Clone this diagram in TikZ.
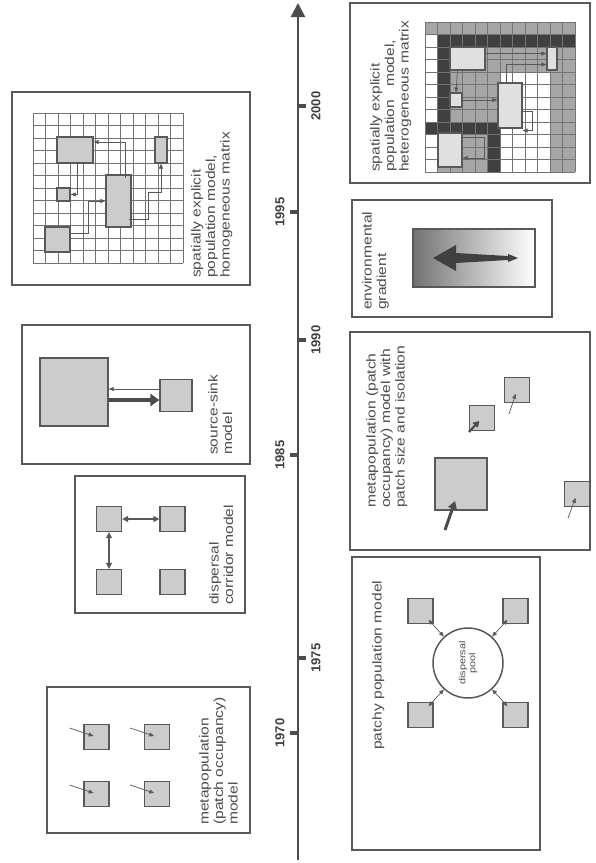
\documentclass[tikz,border=0pt]{standalone}
\usepackage{fontspec}
\setmainfont{Liberation Sans}
\newfontfamily\lblfont[FakeStretch=1.2]{Liberation Sans}
\usetikzlibrary{arrows.meta,calc}

\begin{document}
\begin{tikzpicture}[x=1pt,y=-1pt]
\tikzset{
  boxline/.style={draw=black!65, line width=1.6pt},
  patch/.style={draw=black!65, fill=black!20, line width=1.3pt, minimum size=25pt, inner sep=0pt},
  lightpatch/.style={draw=black!65, fill=black!12, line width=1.1pt, inner sep=0pt},
  lbl/.style={rotate=90, anchor=north west, inner sep=0pt, align=left, text=black!70,
    font=\lblfont\fontsize{13}{14.5}\selectfont},
  yr/.style={rotate=90, inner sep=0pt, text=black!75, font=\bfseries\fontsize{13}{13}\selectfont},
  flow/.style={draw=black!65, line width=0.7pt, -{Triangle[length=5pt,width=4pt]}},
  link/.style={draw=black!65, line width=1.4pt, {Triangle[length=6pt,width=6pt]}-{Triangle[length=6pt,width=6pt]}},
}
\useasboundingbox (0,0) rectangle (595,863);

% time axis
\coordinate (tstart) at (298,860);
\coordinate (tend) at (298,3);
\draw[black!70, line width=2.2pt, -{Triangle[length=14pt,width=14pt]}] (tstart) -- (tend);
\foreach \yy/\yrlab/\side in {733/1970/-1, 658/1975/1, 455/1985/-1, 340/1990/1, 212/1995/-1, 106/2000/1}{
  \fill[black!70] (298,\yy-1.8) rectangle (298+8*\side,\yy+1.8);
  \node[yr] (yr\yrlab) at (298+18*\side,\yy) {\yrlab};
}

% metapopulation (patch occupancy)
\draw[boxline] (47,687) rectangle (250,833);
\foreach \n/\px/\py in {1/96.5/737, 2/157/737, 3/96.5/794, 4/157/794}{
  \node[patch] (mp\n) at (\px,\py) {};
  \path (mp\n) ++(-27,-9) coordinate (mpin\n);
  \draw[flow, shorten >=3pt] (mpin\n) -- (mp\n.center);
}
\node[lbl] (mptxt) at (199,825) {metapopulation\\(patch occupancy)\\model};

% dispersal corridor
\draw[boxline] (75,476) rectangle (245,613);
\node[patch] (dc1) at (109,519) {};
\node[patch] (dc2) at (172.5,519) {};
\node[patch] (dc3) at (109,582) {};
\node[patch] (dc4) at (172.5,582) {};
\draw[link] (dc1) -- (dc2);
\draw[link] (dc1) -- (dc3);
\node[lbl] (dctxt) at (209,605) {dispersal\\corridor model};

% source-sink
\draw[boxline] (22,325) rectangle (250,464);
\node[patch, minimum size=68pt] (src) at (74,392) {};
\node[patch, minimum size=32pt] (snk) at (176,395.5) {};
\draw[flow] ($(snk.west)+(0,-6.5)$) -- ($(src.east)+(0,-3)$);
\draw[draw=black!70, line width=4pt, -{Triangle[length=9pt,width=12pt]}] ($(src.east)+(0,8)$) -- ($(snk.west)+(0,4.5)$);
\node[lbl] (sstxt) at (208,455) {source-sink\\model};

% spatially explicit, homogeneous
\draw[boxline] (12,92) rectangle (250,285);
\foreach \i in {0,...,12}{
  \draw[black!55, line width=0.5pt] (33+12.5*\i,113) -- (33+12.5*\i,263);
  \draw[black!55, line width=0.5pt] (33,113+12.5*\i) -- (183,113+12.5*\i);
}
\node[patch, minimum width=36pt, minimum height=26pt] (h1) at (75,150) {};
\node[patch, minimum width=13pt, minimum height=13pt] (h2) at (63.5,194.5) {};
\node[patch, minimum width=25pt, minimum height=25pt] (h3) at (57.5,239.5) {};
\node[patch, minimum width=25pt, minimum height=52pt] (h4) at (118.5,201) {};
\node[patch, minimum width=12pt, minimum height=26pt] (h5) at (161,150) {};
\draw[flow] ($(h3.east)+(0,-6)$) -- ++(18,0) |- (h4.west);
\draw[flow] ($(h1.south)+(2,0)$) |- (h2.east);
\draw[flow] ($(h4.north)+(7,4)$) |- ($(h1.east)+(0,-8)$);
\draw[flow] ($(h4.south east)+(-3,-8)$) -- ++(20,0) -- ++(0,-27) -| (h5.south);
\node[lbl] (hotxt) at (191,278) {spatially explicit\\population model,\\homogeneous matrix};

% patchy population
\draw[boxline] (352,557) rectangle (540,850);
\node[circle, draw=black!65, line width=1.5pt, minimum size=70pt, inner sep=0pt,
  rotate=90, align=center, text=black!70, font=\lblfont\fontsize{9}{10}\selectfont] (pool) at (468,663) {dispersal\\pool};
\node[patch] (pp1) at (420.5,611) {};
\node[patch] (pp2) at (515.5,611) {};
\node[patch] (pp3) at (420.5,715) {};
\node[patch] (pp4) at (515.5,715) {};
\foreach \n in {1,...,4}{
  \draw[draw=black!65, line width=0.7pt, {Triangle[length=5pt,width=4pt]}-{Triangle[length=5pt,width=4pt]}, shorten >=-6pt] (pool) -- (pp\n);
}
\node[lbl] (pptxt) at (372,750) {patchy population model};

% metapopulation with patch size and isolation
\draw[boxline] (350,332) rectangle (590,550);
\node[patch, minimum size=52pt] (ms1) at (461,484) {};
\node[patch] (ms2) at (482,418) {};
\node[patch] (ms3) at (517,390) {};
\node[patch] (ms4) at (577,494) {};
\path (ms1) ++(-16,46) coordinate (msin1);
\path (ms2) ++(-13,14) coordinate (msin2);
\path (ms3) ++(-8,24) coordinate (msin3);
\path (ms4) ++(-9,24) coordinate (msin4);
\draw[draw=black!70, line width=3pt, -{Triangle[length=8pt,width=9pt]}, shorten >=18pt] (msin1) -- (ms1.center);
\draw[draw=black!70, line width=2.2pt, -{Triangle[length=6pt,width=7pt]}, shorten >=4pt] (msin2) -- (ms2.center);
\draw[flow, shorten >=4pt] (msin3) -- (ms3.center);
\draw[flow, shorten >=4pt] (msin4) -- (ms4.center);
\node[lbl] (mstxt) at (366,508) {metapopulation (patch\\occupancy) model with\\patch size and isolation};

% environmental gradient
\draw[boxline] (352,200) rectangle (552,317);
\shade[left color=black!55, right color=white] (413,229) rectangle (535,287);
\draw[black!65, line width=1.2pt] (413,229) rectangle (535,287);
\fill[black!75] (433,258) -- (456,245) -- (456,253) -- (508,256) -- (508,254) -- (518,258)
  -- (508,262) -- (508,260) -- (456,263) -- (456,271) -- cycle;
\node[lbl] (egtxt) at (362,310) {environmental\\gradient};

% spatially explicit, heterogeneous
\draw[boxline] (350,3) rectangle (590,183);
\fill[black!35] (425,22) rectangle (575,172);
\fill[white] (425,34.5) rectangle (437.5,172);
\fill[white] (500,72) rectangle (550,172);
\fill[black!75] (437.5,34.5) rectangle (575,47);
\fill[black!75] (437.5,34.5) rectangle (450,122);
\fill[black!75] (425,122) rectangle (500,134.5);
\fill[black!75] (487.5,122) rectangle (500,172);
\foreach \i in {0,...,12}{
  \draw[black!55, line width=0.5pt] (425+12.5*\i,22) -- (425+12.5*\i,172);
  \draw[black!55, line width=0.5pt] (425,22+12.5*\i) -- (575,22+12.5*\i);
}
\node[lightpatch, minimum width=35pt, minimum height=23pt] (he1) at (467.5,58.5) {};
\node[lightpatch, minimum width=24pt, minimum height=45pt] (he2) at (510,105.5) {};
\node[lightpatch, minimum width=12pt, minimum height=14pt] (he3) at (456,100) {};
\node[lightpatch, minimum width=24pt, minimum height=34pt] (he4) at (450,150) {};
\node[lightpatch, minimum width=10pt, minimum height=23pt] (he5) at (552,58.5) {};
\draw[flow] ($(he1.east)+(0,-5)$) -- (he5.west |- 0,53.5);
\draw[flow] ($(he2.north)+(-4,0)$) |- ($(he5.west)+(0,6)$);
\draw[flow] ($(he1.south)+(-10,0)$) -- (he3.north);
\draw[flow] (he3.east) -- (he2.west |- he3.east);
\draw[flow] ($(he2.east)+(0,6)$) -- ++(10,0) |- ($(he2.south east)+(0,2)$);
\draw[flow] ($(he4.north east)+(0,5)$) -- ++(22,0) |- ($(he4.east)+(0,8)$);
\node[lbl] (hetxt) at (370,172) {spatially explicit\\population\quad model,\\heterogeneous matrix};
\end{tikzpicture}
\end{document}
